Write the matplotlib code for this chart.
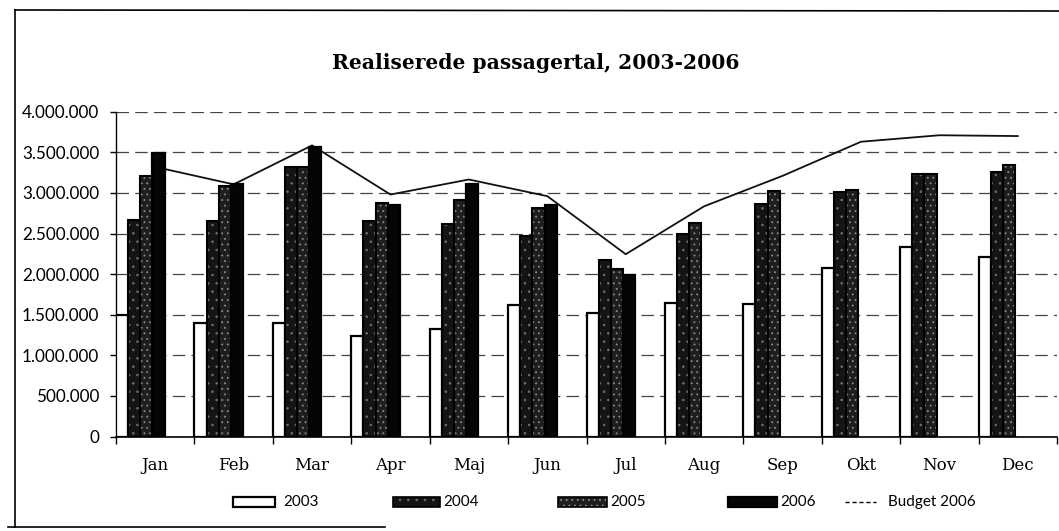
import numpy as np
import matplotlib
matplotlib.use("Agg")
import matplotlib.pyplot as plt
from matplotlib.patches import Rectangle
from matplotlib.lines import Line2D
from matplotlib.ticker import FuncFormatter, MultipleLocator

# ---- data ----
months = ['Jan', 'Feb', 'Mar', 'Apr', 'Maj', 'Jun', 'Jul', 'Aug', 'Sep', 'Okt', 'Nov', 'Dec']
v2003 = [1500000, 1395000, 1400000, 1240000, 1330000, 1625000, 1515000, 1650000, 1630000, 2080000, 2330000, 2205000]
v2004 = [2670000, 2655000, 3320000, 2655000, 2620000, 2470000, 2170000, 2500000, 2860000, 3010000, 3230000, 3260000]
v2005 = [3205000, 3085000, 3320000, 2875000, 2910000, 2810000, 2060000, 2630000, 3020000, 3030000, 3230000, 3340000]
v2006 = [3490000, 3105000, 3565000, 2855000, 3105000, 2845000, 1985000, np.nan, np.nan, np.nan, np.nan, np.nan]
budget2006 = [3320000, 3105000, 3585000, 2980000, 3165000, 2960000, 2245000, 2835000, 3210000, 3630000, 3710000, 3700000]
series_names = ['2003', '2004', '2005', '2006']
budget_name = 'Budget 2006'
title = 'Realiserede passagertal, 2003-2006'

W, H = 1059, 531
fig = plt.figure(figsize=(W / 100, H / 100), dpi=100)
fig.patch.set_facecolor('white')

def fx(px):
    return px / W

def fy(py):
    return 1 - py / H

ax_left, ax_right, ax_top, ax_bot = 116, 1057, 111.7, 436.5
ax = fig.add_axes([fx(ax_left), fy(ax_bot), fx(ax_right) - fx(ax_left), (ax_bot - ax_top) / H])

x = np.arange(len(months))
bw = 0.155

styles = [
    dict(face='white', hatch=None, hcol=None),
    dict(face='#141414', hatch='..', hcol='#6e6e6e'),
    dict(face='#1e1e1e', hatch='...', hcol='#8c8c8c'),
    dict(face='#050505', hatch=None, hcol=None),
]
plt.rcParams['hatch.linewidth'] = 0.6

all_vals = [v2003, v2004, v2005, v2006]
for k, (vals, st) in enumerate(zip(all_vals, styles)):
    xs = x + k * bw
    vals = np.array(vals, dtype=float)
    if st['hatch']:
        ax.bar(xs, vals, width=bw, align='edge', color=st['face'], edgecolor=st['hcol'],
               hatch=st['hatch'], linewidth=0, zorder=3)
        ax.bar(xs, vals, width=bw, align='edge', fill=False, edgecolor='black',
               linewidth=1.5, zorder=3.1)
    else:
        ax.bar(xs, vals, width=bw, align='edge', color=st['face'], edgecolor='black',
               linewidth=1.6, zorder=3)

ax.plot(x + 0.5, budget2006, color='#111111', lw=1.3, zorder=2.5)

ax.set_xlim(0, 12)
ax.set_ylim(0, 4000000)
ax.yaxis.set_major_locator(MultipleLocator(500000))
ax.yaxis.set_major_formatter(FuncFormatter(lambda v, p: f"{int(v):,}".replace(',', '.')))
ax.grid(axis='y', color='#444444', lw=0.9, linestyle=(0, (10, 5)), zorder=1)
ax.set_axisbelow(True)

ax.set_xticks(np.arange(0, 13))
ax.set_xticklabels([])
ax.set_xticks(x + 0.5, minor=True)
ax.set_xticklabels(months, minor=True, fontfamily='DejaVu Serif', fontsize=12)
ax.tick_params(axis='x', which='major', length=5, width=1, direction='out')
ax.tick_params(axis='x', which='minor', length=0, pad=15)
ax.tick_params(axis='y', length=4, width=1, direction='out', pad=8, labelsize=12.3)
for lab in ax.get_yticklabels():
    lab.set_fontfamily('Lato')

for s in ['top', 'right']:
    ax.spines[s].set_visible(False)
ax.spines['left'].set_linewidth(1.0)
ax.spines['bottom'].set_linewidth(1.2)

fig.text(fx(536), fy(63), title, ha='center', va='center', fontsize=14.6,
         fontweight='bold', fontfamily='DejaVu Serif')

# ---- legend (manual placement) ----
leg_y = 502
box_h = 10
boxes = [(233, 275, 283), (393, 440, 443), (558, 607, 610), (728, 777, 780)]
for (bx0, bx1, tx), st, name in zip(boxes, styles, series_names):
    r = Rectangle((fx(bx0), fy(leg_y + box_h / 2)), fx(bx1) - fx(bx0), box_h / H,
                  transform=fig.transFigure, facecolor=st['face'],
                  edgecolor=st['hcol'] if st['hatch'] else 'black',
                  hatch=st['hatch'], linewidth=0 if st['hatch'] else 1.6)
    fig.add_artist(r)
    if st['hatch']:
        fig.add_artist(Rectangle((fx(bx0), fy(leg_y + box_h / 2)), fx(bx1) - fx(bx0), box_h / H,
                                 transform=fig.transFigure, fill=False, edgecolor='black', linewidth=1.2))
    fig.text(fx(tx), fy(leg_y), name, ha='left', va='center', fontsize=11, fontfamily='Lato')
fig.add_artist(Line2D([fx(845), fx(876)], [fy(leg_y), fy(leg_y)], transform=fig.transFigure,
                      color='black', lw=1.0, linestyle=(0, (3, 2))))
fig.text(fx(888), fy(leg_y), budget_name, ha='left', va='center', fontsize=11, fontfamily='Lato')

# ---- outer frame ----
fig.add_artist(Line2D([fx(15), fx(15)], [fy(10), fy(527)], transform=fig.transFigure, color='black', lw=1.2))
fig.add_artist(Line2D([fx(15), fx(1059)], [fy(10), fy(11)], transform=fig.transFigure, color='black', lw=1.2))
fig.add_artist(Line2D([fx(8), fx(385)], [fy(527), fy(527)], transform=fig.transFigure, color='black', lw=1.2))

fig.savefig('out.png', dpi=100, facecolor='white')
